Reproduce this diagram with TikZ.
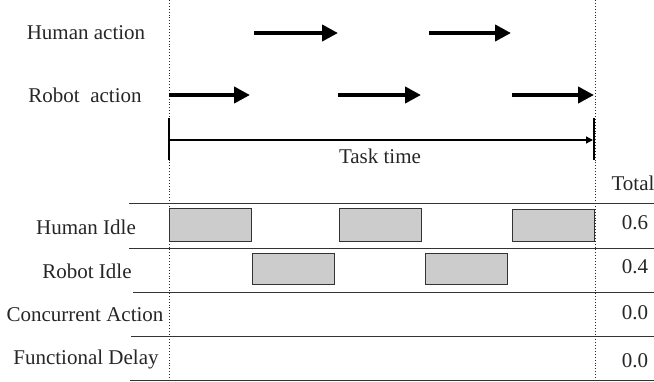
\documentclass[tikz,border=0pt]{standalone}
\usepackage{fontspec}
\setmainfont{Liberation Serif}
\usetikzlibrary{arrows.meta}
\begin{document}
\begin{tikzpicture}[x=1pt,y=-1pt,
  lbl/.style={font=\fontsize{21}{25}\selectfont, inner sep=0pt, text=black!85},
  act/.style={line width=4.5pt, -{Triangle[length=16pt,width=16pt]}},
  idle/.style={draw=black!80, line width=1pt, fill=black!20},
  rowline/.style={draw=black!80, line width=1pt},
  guide/.style={draw=black!85, line width=0.9pt, dotted}]
\useasboundingbox (0,0) rectangle (654,381);

% time guides at task start and end
\draw[guide] (169,0) -- (169,381);
\draw[guide] (595,0) -- (595,381);

% action lanes
\node[lbl] (ha) at (86,33) {Human action};
\node[lbl] (ra) at (85,95) {Robot\ \ action};

\coordinate (h1s) at (254,33); \coordinate (h1e) at (338,33);
\coordinate (h2s) at (429,33); \coordinate (h2e) at (511,33);
\draw[act] (h1s) -- (h1e);
\draw[act] (h2s) -- (h2e);

\coordinate (r1s) at (169,95); \coordinate (r1e) at (250,95);
\coordinate (r2s) at (338,95); \coordinate (r2e) at (421,95);
\coordinate (r3s) at (512,95); \coordinate (r3e) at (594,95);
\draw[act] (r1s) -- (r1e);
\draw[act] (r2s) -- (r2e);
\draw[act] (r3s) -- (r3e);

% task time span
\coordinate (ts) at (169,140); \coordinate (te) at (593,140);
\draw[line width=2pt] (169,118) -- (169,160);
\draw[line width=2pt] (594,118) -- (594,160);
\draw[line width=1.3pt, -{Triangle[length=7pt,width=7pt]}] (ts) -- (te);
\node[lbl] (tt) at (380,156) {Task time};

% metrics table
\node[lbl] (total) at (633,183) {Total};
\draw[rowline] (129,203) -- (654,203);
\draw[rowline] (129,248) -- (654,248);
\draw[rowline] (133,292) -- (654,292);
\draw[rowline] (131,336) -- (654,336);
\draw[rowline] (130,380) -- (654,380);

\node[lbl] (hi) at (86,227) {Human Idle};
\node[lbl] (ri) at (87,271) {Robot Idle};
\node[lbl] (ca) at (85,315) {Concurrent Action};
\node[lbl] (fd) at (86,359) {Functional Delay};

\node[lbl] (vhi) at (635,223) {0.6};
\node[lbl] (vri) at (635,267) {0.4};
\node[lbl] (vca) at (635,313) {0.0};
\node[lbl] (vfd) at (635,361) {0.0};

% idle intervals
\draw[idle] (169,208) rectangle (251,241);
\draw[idle] (339,208) rectangle (421,241);
\draw[idle] (512,209) rectangle (594,241);
\draw[idle] (252,253) rectangle (334,284);
\draw[idle] (425,253) rectangle (507,284);
\end{tikzpicture}
\end{document}
